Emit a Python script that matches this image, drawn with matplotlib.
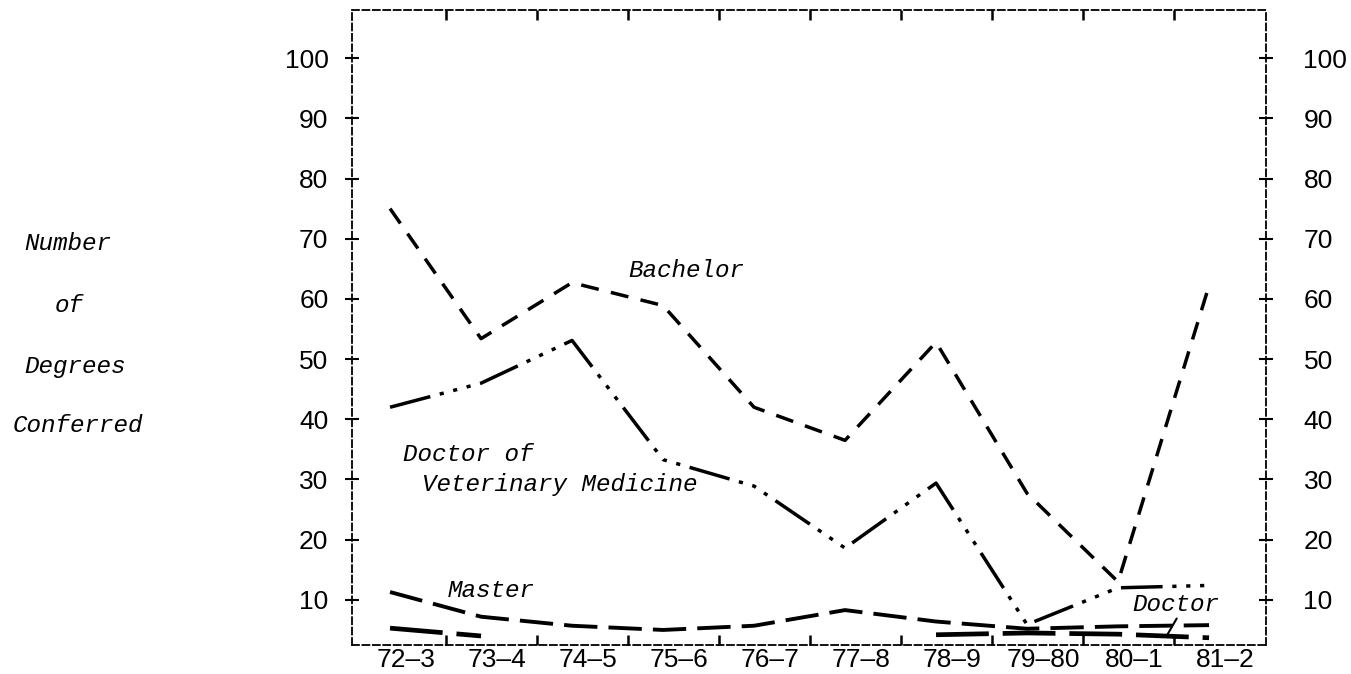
import numpy as np
import matplotlib.pyplot as plt

plt.rcParams['lines.scale_dashes'] = False

years = ['72–3', '73–4', '74–5', '75–6', '76–7', '77–8', '78–9', '79–80', '80–1', '81–2']
bachelor = [75.0, 53.4, 62.7, 58.9, 42.0, 36.5, 52.8, 27.7, 13.0, 62.2]
vet_med = [42.0, 46.0, 53.1, 33.3, 28.9, 18.6, 29.4, 5.9, 12.0, 12.4]
master = [11.3, 7.2, 5.7, 5.0, 5.7, 8.3, 6.4, 5.2, 5.6, 5.8]
doctor = [5.3, 4.0, np.nan, np.nan, np.nan, np.nan, 4.2, 4.5, 4.3, 3.7]
y_ticks = [10, 20, 30, 40, 50, 60, 70, 80, 90, 100]

tick_font = 'Liberation Sans'
note_font = dict(family='Liberation Mono', style='italic', fontsize=17.5)

fig = plt.figure(figsize=(13.51, 6.74), dpi=100)
ax = fig.add_axes([352 / 1351, 1 - 645 / 674, (1266 - 352) / 1351, (645 - 10) / 674])

x = np.arange(len(years))
ax.plot(x, bachelor, color='black', lw=2.5, dashes=(13, 9))
ax.plot(x, vet_med, color='black', lw=2.5, dashes=(30, 7, 3, 7, 3, 7, 3, 7))
ax.plot(x, master, color='black', lw=2.8, dashes=(24, 8))
ax.plot(x, doctor, color='black', lw=3.4, dashes=(38, 10))

ax.set_xlim(-0.418, 9.626)
ax.set_ylim(2.5, 108)

# frame drawn as a dashed printout border
for s in ax.spines.values():
    s.set_linestyle((0, (5, 2.5)))
    s.set_linewidth(1.3)

ax.set_xticks(x + 0.18, labels=years)
ax.set_xticks(x[:-1] + 0.62, minor=True)
ax.tick_params(axis='x', which='major', length=0, pad=2, labelsize=19)
ax.tick_params(axis='x', which='minor', direction='in', length=7, width=1.8,
               top=True, bottom=True)
for lab in ax.get_xticklabels():
    lab.set_family(tick_font)

ax.set_yticks(y_ticks)
ax.tick_params(axis='y', direction='inout', length=10, width=1.5, pad=12,
               labelsize=19, left=True, right=False)
for lab in ax.get_yticklabels():
    lab.set_family(tick_font)

ax2 = ax.twinx()
ax2.set_ylim(ax.get_ylim())
ax2.set_yticks(y_ticks)
ax2.tick_params(axis='y', direction='inout', length=10, width=1.5, pad=22,
                labelsize=19)
for lab in ax2.get_yticklabels():
    lab.set_family(tick_font)
for s in ax2.spines.values():
    s.set_visible(False)

# line labels
ax.text(2.615, 64.8, 'Bachelor', ha='left', va='center', **note_font)
ax.text(0.14, 34.1, 'Doctor of', ha='left', va='center', **note_font)
ax.text(0.35, 29.1, 'Veterinary Medicine', ha='left', va='center', **note_font)
ax.text(0.63, 11.5, 'Master', ha='left', va='center', **note_font)
ax.text(8.16, 9.3, 'Doctor', ha='left', va='center', **note_font)
ax.annotate('', xy=(8.53, 3.9), xytext=(8.66, 7.3),
            arrowprops=dict(arrowstyle='-', color='black', lw=1.5))

# y-axis title, one word per row
fig.text(68 / 1351, 1 - 243 / 674, 'Number', ha='center', va='center', **note_font)
fig.text(69 / 1351, 1 - 305 / 674, 'of', ha='center', va='center', **note_font)
fig.text(75 / 1351, 1 - 367 / 674, 'Degrees', ha='center', va='center', **note_font)
fig.text(78 / 1351, 1 - 425 / 674, 'Conferred', ha='center', va='center', **note_font)

fig.savefig('out.png', dpi=100)
